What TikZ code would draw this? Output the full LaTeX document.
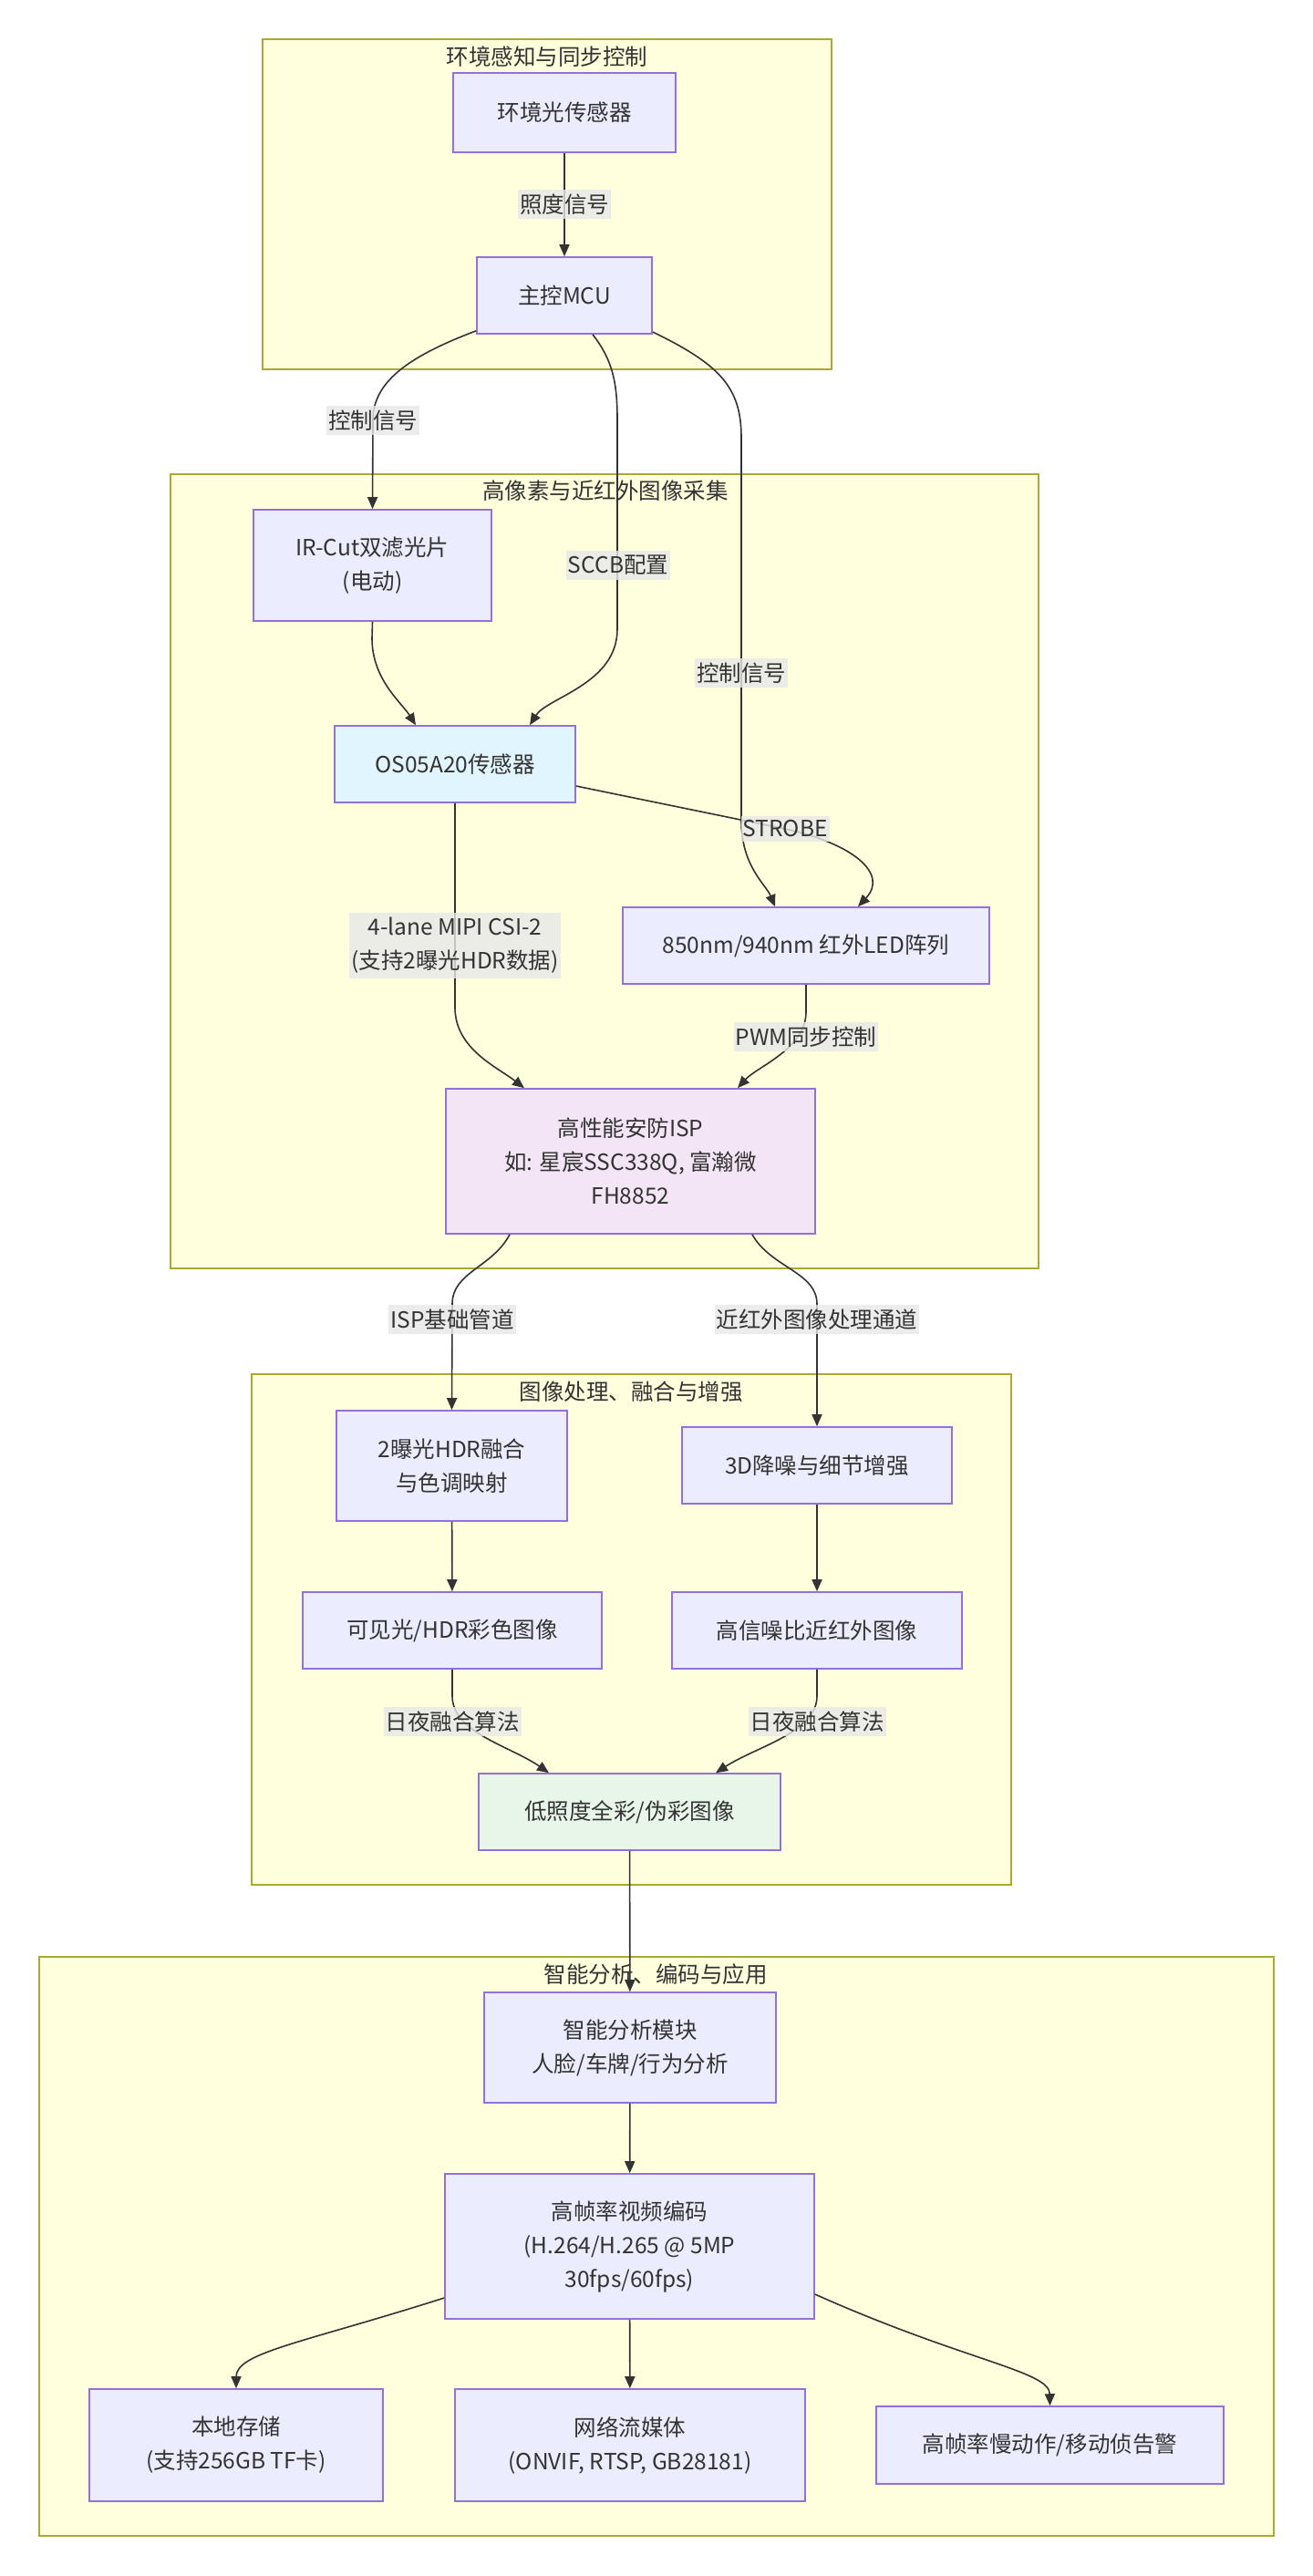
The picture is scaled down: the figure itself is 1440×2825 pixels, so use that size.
\documentclass[tikz,border=0pt]{standalone}
\usepackage{fontspec}
\setmainfont{Noto Sans CJK SC}
\usetikzlibrary{arrows.meta,calc}

\definecolor{clfill}{HTML}{FFFFDE}
\definecolor{cldraw}{HTML}{AAAA33}
\definecolor{ndfill}{HTML}{ECECFF}
\definecolor{nddraw}{HTML}{9370DB}
\definecolor{txt}{HTML}{333333}
\definecolor{lblbg}{HTML}{E8E8E8}
\definecolor{sensorfill}{HTML}{E1F5FE}
\definecolor{ispfill}{HTML}{F3E5F5}
\definecolor{fusefill}{HTML}{E8F5E9}

\tikzset{
  basefont/.style={font=\fontsize{24.5}{37}\selectfont, text=txt},
  cluster/.style={draw=cldraw, fill=clfill, line width=1.6pt},
  cltitle/.style={basefont, inner sep=0pt},
  box/.style={basefont, draw=nddraw, fill=ndfill, line width=1.6pt, align=center, inner sep=0pt},
  edge/.style={draw=txt, line width=1.6pt, -{Triangle[length=13pt,width=11pt]}},
  lbl/.style={basefont, fill=lblbg, fill opacity=0.8, text opacity=1, align=center, inner xsep=2pt, inner ysep=5pt},
}

\begin{document}
\begin{tikzpicture}[x=1pt,y=-1pt]
  \fill[white] (0,0) rectangle (1440,2825);
  \useasboundingbox (0,0) rectangle (1440,2825);

  % subgraph frames
  \draw[cluster] (288,43) rectangle (912,405);
  \node[cltitle] (t1) at (600,62) {环境感知与同步控制};
  \draw[cluster] (187,520) rectangle (1139,1391);
  \node[cltitle] (t2) at (664,538) {高像素与近红外图像采集};
  \draw[cluster] (276,1507) rectangle (1109,2067);
  \node[cltitle] (t3) at (692,1526) {图像处理、融合与增强};
  \draw[cluster] (43,2146) rectangle (1397,2781);
  \node[cltitle] (t4) at (719,2165) {智能分析、编码与应用};

  % nodes
  \node[box, minimum width=244pt, minimum height=87pt] (amb) at (619,123.5) {环境光传感器};
  \node[box, minimum width=192pt, minimum height=84pt] (mcu) at (619,324) {主控MCU};
  \node[box, minimum width=261pt, minimum height=122pt] (ircut) at (408.5,620) {IR-Cut双滤光片\\(电动)};
  \node[box, fill=sensorfill, minimum width=264pt, minimum height=84pt] (os) at (499,838) {OS05A20传感器};
  \node[box, minimum width=402pt, minimum height=84pt] (led) at (884,1037) {850nm/940nm 红外LED阵列};
  \node[box, fill=ispfill, minimum width=405pt, minimum height=159pt] (isp) at (691.5,1273.5) {高性能安防ISP\\如: 星宸SSC338Q, 富瀚微\\FH8852};
  \node[box, minimum width=253pt, minimum height=121pt] (hdr) at (495.5,1607.5) {2曝光HDR融合\\与色调映射};
  \node[box, minimum width=296pt, minimum height=84pt] (dnr) at (896,1607) {3D降噪与细节增强};
  \node[box, minimum width=328pt, minimum height=84pt] (vis) at (496,1788) {可见光/HDR彩色图像};
  \node[box, minimum width=318pt, minimum height=84pt] (nir) at (896,1788) {高信噪比近红外图像};
  \node[box, fill=fusefill, minimum width=331pt, minimum height=84pt] (fuse) at (690.5,1987) {低照度全彩/伪彩图像};
  \node[box, minimum width=320pt, minimum height=121pt] (ai) at (691,2245.5) {智能分析模块\\人脸/车牌/行为分析};
  \node[box, minimum width=405pt, minimum height=159pt] (enc) at (690.5,2463.5) {高帧率视频编码\\(H.264/H.265 @ 5MP\\30fps/60fps)};
  \node[box, minimum width=322pt, minimum height=123pt] (sd) at (259,2681.5) {本地存储\\(支持256GB TF卡)};
  \node[box, minimum width=384pt, minimum height=123pt] (net) at (691,2681.5) {网络流媒体\\(ONVIF, RTSP, GB28181)};
  \node[box, minimum width=381pt, minimum height=85pt] (slow) at (1151.5,2681.5) {高帧率慢动作/移动侦告警};

  % connectors
  \draw[edge] (amb) -- (mcu);
  \draw[edge] ($(mcu.south west)+(0,-4)$) .. controls (445,392) and (409,420) .. (409,461) -- (ircut.north);
  \draw[edge] ($(mcu.south)+(31,0)$) .. controls (672,395) and (677,420) .. (677,460) -- (677,690)
              .. controls (677,750) and (600,765) .. ($(os.north)+(82,0)$);
  \draw[edge] ($(mcu.east)+(0,40)$) .. controls (790,400) and (813,425) .. (813,480) -- (813,900)
              .. controls (813,950) and (840,970) .. ($(led.north)+(-34,0)$);
  \draw[edge] (ircut.south) -- (408,700) .. controls (408,745) and (440,770) .. ($(os.north)+(-43,0)$);
  \draw[edge] ($(os.east)+(0,24)$) -- (861,909) .. controls (935,925) and (975,958) .. ($(led.north)+(57,0)$);
  \draw[edge] (os.south) -- (499,1105) .. controls (499,1150) and (545,1170) .. ($(isp.north)+(-116.5,0)$);
  \draw[edge] (led.south) -- (884,1110) .. controls (884,1150) and (830,1170) .. ($(isp.north)+(117.5,0)$);
  \draw[edge] ($(isp.south)+(-132.5,0)$) .. controls (540,1390) and (496,1395) .. (496,1430) -- (hdr.north);
  \draw[edge] ($(isp.south)+(133.5,0)$) .. controls (845,1390) and (896,1395) .. (896,1430) -- (dnr.north);
  \draw[edge] (hdr) -- (vis);
  \draw[edge] (dnr) -- (nir);
  \draw[edge] (vis.south) -- (496,1860) .. controls (496,1900) and (560,1915) .. ($(fuse.north)+(-88.5,0)$);
  \draw[edge] (nir.south) -- (896,1860) .. controls (896,1900) and (830,1915) .. ($(fuse.north)+(94.5,0)$);
  \draw[edge] (fuse) -- (ai);
  \draw[edge] (ai) -- (enc);
  \draw[edge] ($(enc.west)+(0,56.5)$) .. controls (330,2570) and (259,2580) .. (sd.north);
  \draw[edge] (enc) -- (net);
  \draw[edge] ($(enc.east)+(0,52.5)$) .. controls (1060,2590) and (1151,2600) .. (slow.north);

  % connector labels
  \node[lbl] (l1) at (619,224) {照度信号};
  \node[lbl] (l2) at (409,461) {控制信号};
  \node[lbl] (l3) at (678,620) {SCCB配置};
  \node[lbl] (l4) at (813,738) {控制信号};
  \node[lbl] (l5) at (861,909) {STROBE};
  \node[lbl] (l6) at (499,1037) {4-lane MIPI CSI-2\\(支持2曝光HDR数据)};
  \node[lbl] (l7) at (884,1137) {PWM同步控制};
  \node[lbl] (l8) at (496,1447) {ISP基础管道};
  \node[lbl] (l9) at (896,1447) {近红外图像处理通道};
  \node[lbl] (l10) at (496,1888) {日夜融合算法};
  \node[lbl] (l11) at (896,1888) {日夜融合算法};
\end{tikzpicture}
\end{document}
